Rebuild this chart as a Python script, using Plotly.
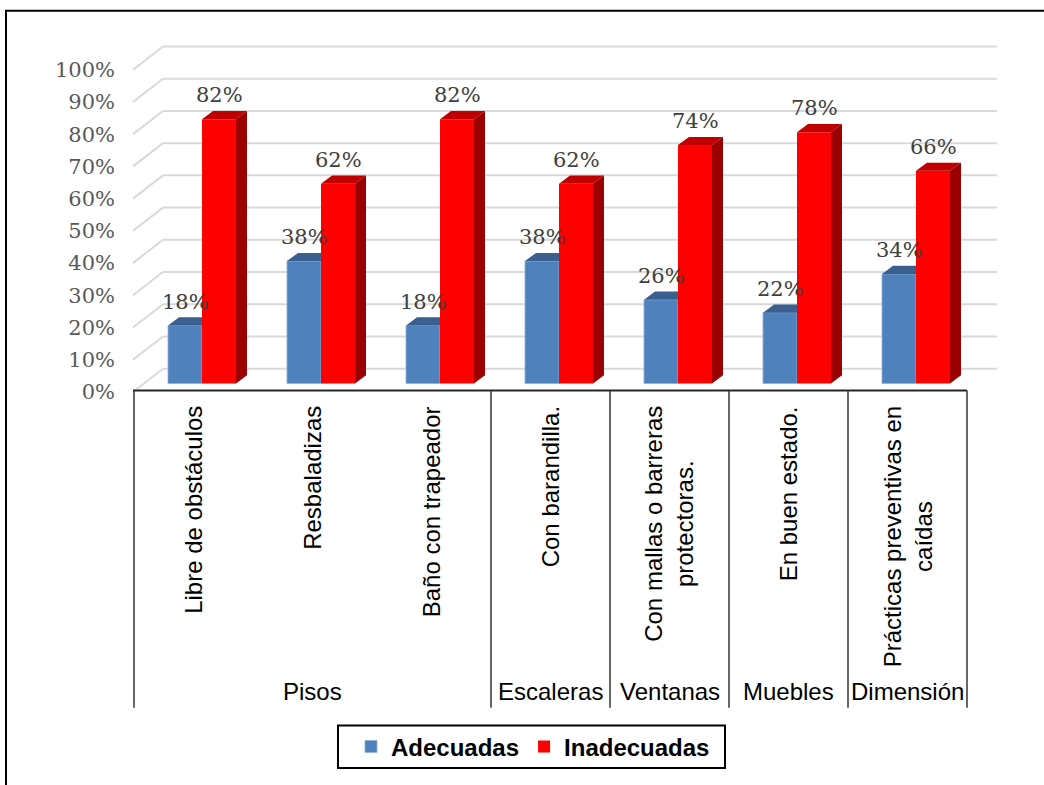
import numpy as np
import plotly.graph_objects as go

# ---------------- data ----------------
categories = [
    "Libre de obstáculos",
    "Resbaladizas",
    "Baño con trapeador",
    "Con barandilla.",
    "Con mallas o barreras<br>protectoras.",
    "En buen estado.",
    "Prácticas preventivas en<br>caídas",
]
groups = ["Pisos", "Escaleras", "Ventanas", "Muebles", "Dimensión"]
group_sizes = [3, 1, 1, 1, 1]
adecuadas = [0.18, 0.38, 0.18, 0.38, 0.26, 0.22, 0.34]
inadecuadas = [0.82, 0.62, 0.82, 0.62, 0.74, 0.78, 0.66]
series_names = ["Adecuadas", "Inadecuadas"]
y_ticks = [0.0, 0.1, 0.2, 0.3, 0.4, 0.5, 0.6, 0.7, 0.8, 0.9, 1.0]
y_tick_labels = ["0%", "10%", "20%", "30%", "40%", "50%", "60%", "70%", "80%", "90%", "100%"]

# ---------------- layout constants ----------------
W, H = 1044, 785
CAT_PX = 119.0          # pixel width of one category
X0_PX = 134.0           # pixel of category edge -0.5
UNIT_PX = 326.0         # pixels per 100 %
Y0_BAR = 388.0          # pixel of 0 on the bar plane
Y0_FRONT = 396.5        # pixel of 0 on the front (label) plane
Y0_BACK = 373.0         # pixel of 0 on the back wall
DOM_X = (120.0, 1000.0)
DOM_Y = (30.0, 400.0)   # top, bottom pixels

BW = 34.0 / CAT_PX                 # bar width in category units
OFF_BLUE = -0.5 + (168.0 - X0_PX) / CAT_PX
OFF_RED = OFF_BLUE + BW
DX = 11.0 / CAT_PX                 # depth shift x
DY = 8.3 / UNIT_PX                 # depth shift y
FRONT_DY = (Y0_FRONT - Y0_BAR) / UNIT_PX
BACK_DY = (Y0_BAR - Y0_BACK) / UNIT_PX
X_FRONT_GRID = -0.5 - 1.0 / CAT_PX
X_BACK_GRID = -0.5 + (163.0 - X0_PX) / CAT_PX
X_RIGHT_GRID = -0.5 + (997.0 - X0_PX) / CAT_PX


def px_to_paper_x(px):
    return px / W


def px_to_paper_y(py):
    return (H - py) / H


idx = np.arange(len(categories))

BLUE = "#4f81bd"
BLUE_EDGE = "#8fb0da"
BLUE_TOP = "#3b6090"
RED = "#ff0000"
RED_TOP = "#c00000"
RED_SIDE = "#9a0000"
SANS = "Liberation Sans, Arial, sans-serif"
SERIF = "DejaVu Serif, serif"

fig = go.Figure()

# front faces
fig.add_trace(go.Bar(x=idx, y=adecuadas, width=BW, offset=OFF_BLUE, name=series_names[0],
                     marker=dict(color=BLUE, line=dict(width=0.8, color=BLUE_EDGE)),
                     hoverinfo="skip"))
fig.add_trace(go.Bar(x=idx, y=inadecuadas, width=BW, offset=OFF_RED, name=series_names[1],
                     marker=dict(color=RED, line=dict(width=0)), hoverinfo="skip"))


def polys(points_list):
    xs, ys = [], []
    for pts in points_list:
        for (a, b) in pts:
            xs.append(a)
            ys.append(b)
        xs.append(pts[0][0]); ys.append(pts[0][1])
        xs.append(None); ys.append(None)
    return xs, ys


# blue top faces (right part hidden by red bar)
blue_tops = []
for i, v in zip(idx, adecuadas):
    x0 = i + OFF_BLUE
    x1 = x0 + BW
    blue_tops.append([(x0, v), (x1, v), (x1, v + DY), (x0 + DX, v + DY)])
bx, by = polys(blue_tops)
fig.add_trace(go.Scatter(x=bx, y=by, fill="toself", fillcolor=BLUE_TOP, mode="lines",
                         line=dict(width=0, color=BLUE_TOP), showlegend=False, hoverinfo="skip"))

red_tops, red_sides = [], []
for i, v in zip(idx, inadecuadas):
    x0 = i + OFF_RED
    x1 = x0 + BW
    red_tops.append([(x0, v), (x1, v), (x1 + DX, v + DY), (x0 + DX, v + DY)])
    red_sides.append([(x1, 0), (x1, v), (x1 + DX, v + DY), (x1 + DX, DY)])
rx, ry = polys(red_tops)
fig.add_trace(go.Scatter(x=rx, y=ry, fill="toself", fillcolor=RED_TOP, mode="lines",
                         line=dict(width=0, color=RED_TOP), showlegend=False, hoverinfo="skip"))
sx, sy = polys(red_sides)
fig.add_trace(go.Scatter(x=sx, y=sy, fill="toself", fillcolor=RED_SIDE, mode="lines",
                         line=dict(width=0, color=RED_SIDE), showlegend=False, hoverinfo="skip"))

shapes = []
# gridlines on back wall + diagonals on the side wall
for v in y_ticks:
    shapes.append(dict(type="line", xref="x", yref="y", layer="below",
                       x0=X_FRONT_GRID, y0=v - FRONT_DY, x1=X_BACK_GRID, y1=v + BACK_DY,
                       line=dict(color="#d9d9d9", width=2)))
    shapes.append(dict(type="line", xref="x", yref="y", layer="below",
                       x0=X_BACK_GRID, y0=v + BACK_DY, x1=X_RIGHT_GRID, y1=v + BACK_DY,
                       line=dict(color="#d9d9d9", width=2)))

# category axis line
shapes.append(dict(type="line", xref="x", yref="paper",
                   x0=X_FRONT_GRID, x1=len(categories) - 0.5,
                   y0=px_to_paper_y(395), y1=px_to_paper_y(395),
                   line=dict(color="#262626", width=2)))

# group separators of the hierarchical axis
bounds = [-0.5]
for s in group_sizes:
    bounds.append(bounds[-1] + s)
for b in bounds:
    shapes.append(dict(type="line", xref="x", yref="paper",
                       x0=b, x1=b, y0=px_to_paper_y(395), y1=px_to_paper_y(716),
                       line=dict(color="#333333", width=1.5)))

# outer chart border
shapes.append(dict(type="rect", xref="paper", yref="paper",
                   x0=px_to_paper_x(6), x1=1.02, y0=px_to_paper_y(11), y1=-0.02,
                   line=dict(color="black", width=2), fillcolor="rgba(0,0,0,0)"))
# legend frame
shapes.append(dict(type="rect", xref="paper", yref="paper",
                   x0=px_to_paper_x(338), x1=px_to_paper_x(725),
                   y0=px_to_paper_y(734), y1=px_to_paper_y(777),
                   line=dict(color="black", width=2), fillcolor="rgba(0,0,0,0)"))

annotations = []
# category labels (rotated)
for i, c in enumerate(categories):
    annotations.append(dict(x=i, y=px_to_paper_y(409), xref="x", yref="paper",
                            text=c, textangle=-90, showarrow=False,
                            xanchor="center", yanchor="top", align="center",
                            font=dict(family=SANS, size=24, color="black")))
# group labels
for g, b0, b1 in zip(groups, bounds[:-1], bounds[1:]):
    annotations.append(dict(x=(b0 + b1) / 2, y=px_to_paper_y(700), xref="x", yref="paper",
                            text=g, showarrow=False, xanchor="center", yanchor="middle",
                            font=dict(family=SANS, size=24, color="black")))
# data labels
for i, v in zip(idx, adecuadas):
    annotations.append(dict(x=i + OFF_BLUE + BW / 2, y=v, xref="x", yref="y",
                            text=f"{round(v * 100)}%", showarrow=False, yshift=24,
                            font=dict(family=SERIF, size=21, color="#404040")))
for i, v in zip(idx, inadecuadas):
    annotations.append(dict(x=i + OFF_RED + BW / 2, y=v, xref="x", yref="y",
                            text=f"{round(v * 100)}%", showarrow=False, yshift=24,
                            font=dict(family=SERIF, size=21, color="#404040")))

dom_y = [px_to_paper_y(DOM_Y[1]), px_to_paper_y(DOM_Y[0])]
fig.update_layout(
    width=W, height=H,
    margin=dict(l=0, r=0, t=0, b=0),
    paper_bgcolor="white", plot_bgcolor="rgba(0,0,0,0)",
    barmode="overlay",
    xaxis=dict(domain=[px_to_paper_x(DOM_X[0]), px_to_paper_x(DOM_X[1])],
               range=[-0.5 - (X0_PX - DOM_X[0]) / CAT_PX, -0.5 + (DOM_X[1] - X0_PX) / CAT_PX],
               showticklabels=False, showgrid=False, zeroline=False, showline=False, ticks=""),
    yaxis=dict(domain=dom_y,
               range=[-(DOM_Y[1] - Y0_BAR) / UNIT_PX, (Y0_BAR - DOM_Y[0]) / UNIT_PX],
               showticklabels=False, showgrid=False, zeroline=False, showline=False, ticks=""),
    yaxis2=dict(domain=dom_y, overlaying="y", anchor="free", position=px_to_paper_x(115),
                side="left",
                range=[-(DOM_Y[1] - Y0_FRONT) / UNIT_PX, (Y0_FRONT - DOM_Y[0]) / UNIT_PX],
                tickvals=y_ticks, ticktext=y_tick_labels, showgrid=False, zeroline=False,
                showline=False, ticks="",
                tickfont=dict(family=SERIF, size=21, color="#595959")),
    shapes=shapes,
    annotations=annotations,
    showlegend=True,
    legend=dict(orientation="h", x=px_to_paper_x(351), xanchor="left",
                y=px_to_paper_y(755.5), yanchor="middle",
                borderwidth=0, bgcolor="rgba(0,0,0,0)",
                font=dict(family=SANS, size=24, color="black", weight="bold")),
)
# dummy trace so the label axis is drawn
fig.add_trace(go.Scatter(x=[None], y=[None], yaxis="y2", showlegend=False, hoverinfo="skip"))

fig.write_html("out.html")
